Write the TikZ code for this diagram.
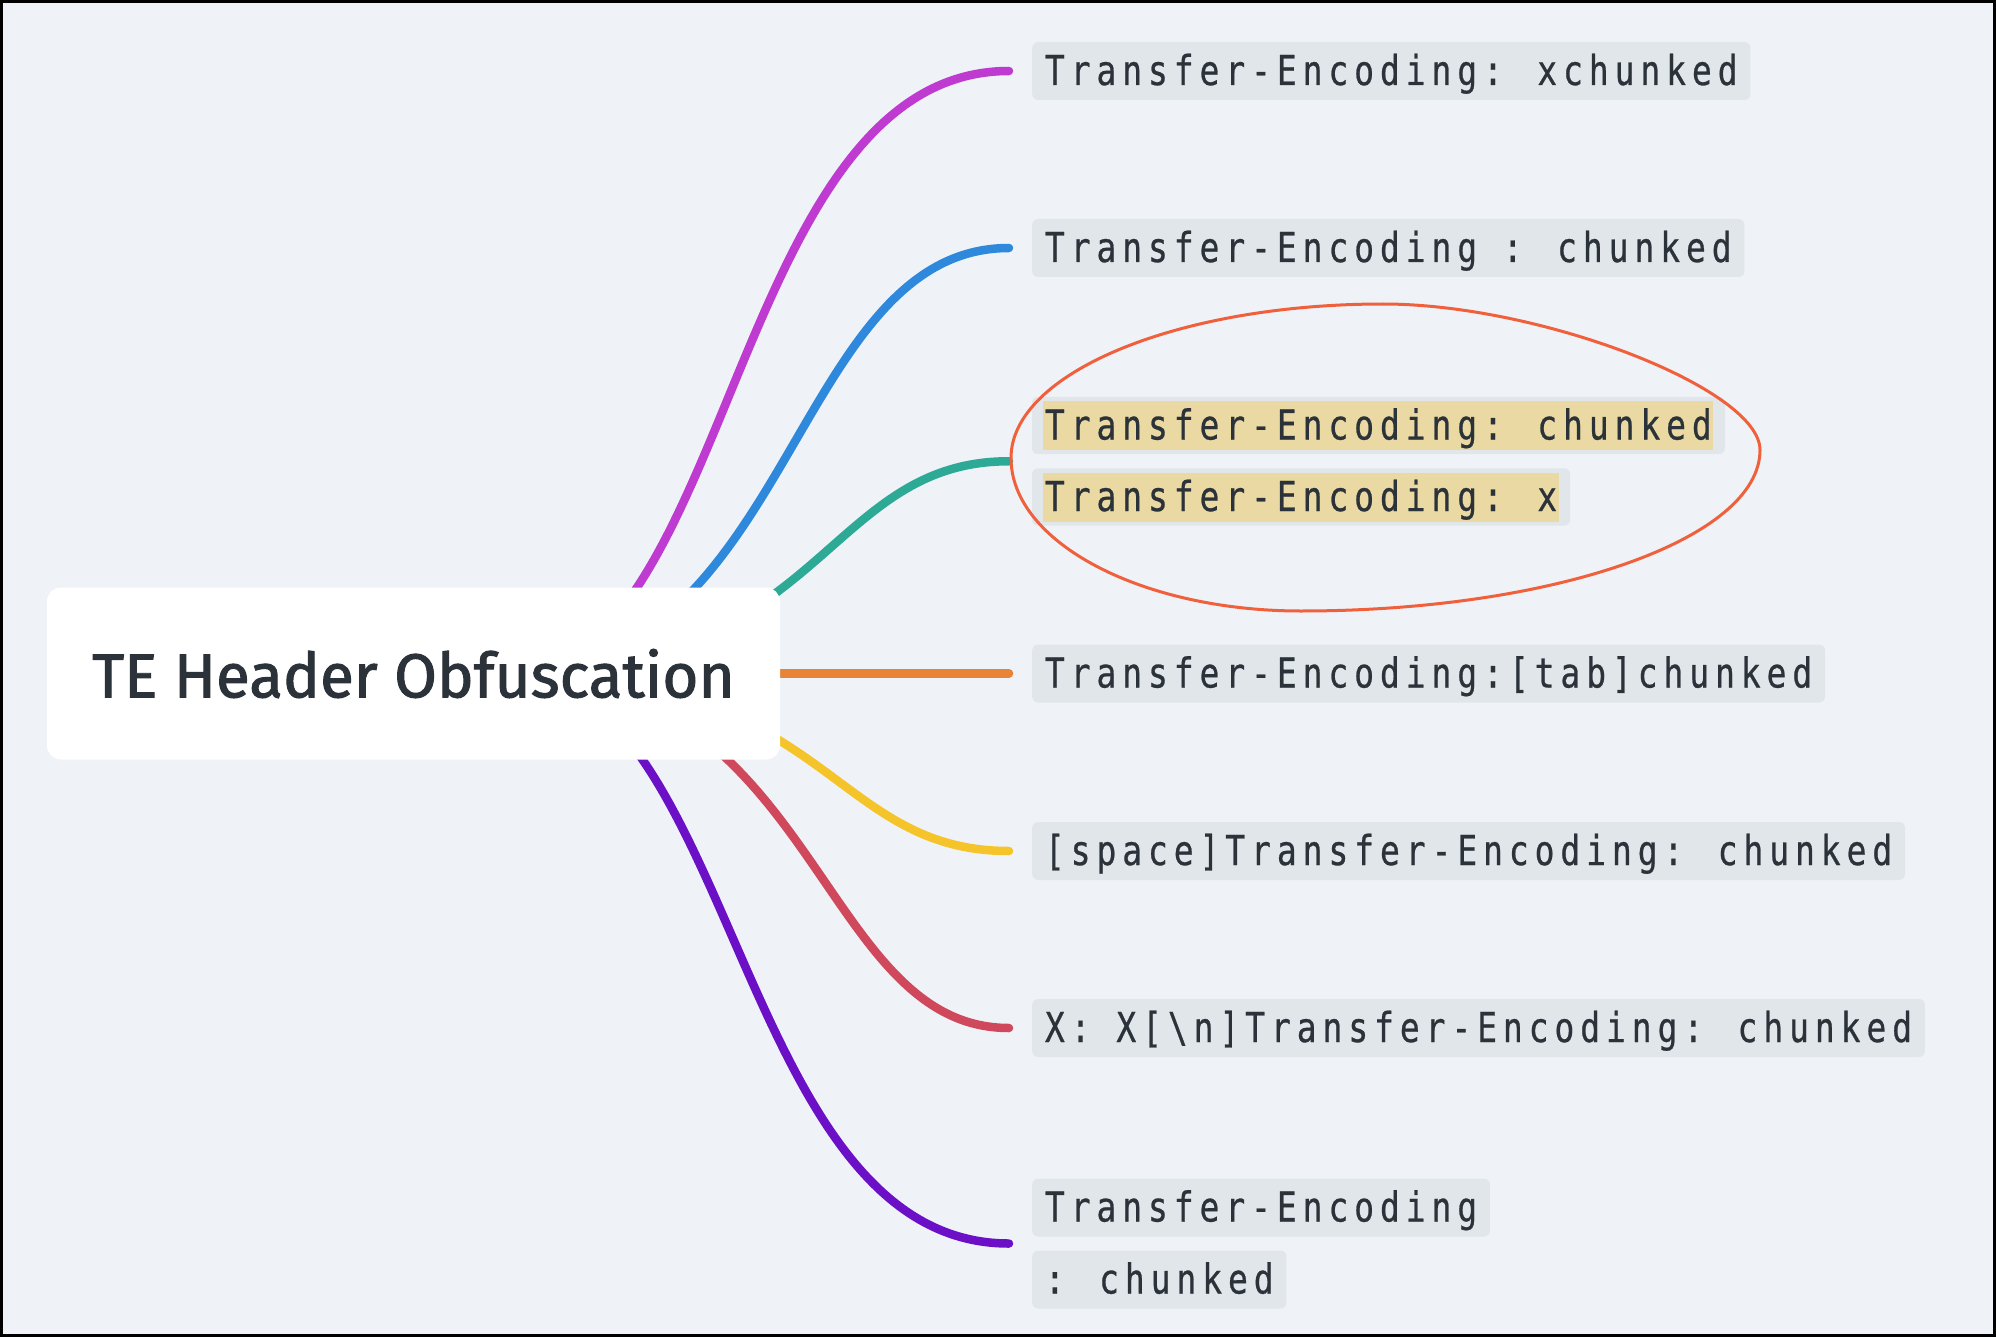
\documentclass[tikz,border=0pt]{standalone}
\usepackage{fontspec}
\newfontfamily\rootfont[FakeBold=1.6]{Fira Sans}
\newfontfamily\codefont[FakeStretch=0.8, LetterSpace=14.4, FakeBold=0.6]{DejaVu Sans Mono}
\usetikzlibrary{fit,backgrounds,calc}

\definecolor{bg}{RGB}{239,243,247}
\definecolor{lbl}{RGB}{225,230,235}
\definecolor{hl}{RGB}{234,217,162}
\definecolor{ink}{RGB}{43,50,57}
\definecolor{cMag}{RGB}{190,58,208}
\definecolor{cBlue}{RGB}{46,137,220}
\definecolor{cTeal}{RGB}{44,170,150}
\definecolor{cOrange}{RGB}{232,132,56}
\definecolor{cYellow}{RGB}{245,196,42}
\definecolor{cRed}{RGB}{208,72,92}
\definecolor{cPurple}{RGB}{108,16,200}
\definecolor{cRing}{RGB}{240,96,60}

\begin{document}
\begin{tikzpicture}[x=1pt,y=-1pt,
  codefnt/.style={font=\codefont\fontsize{41.2}{50}\selectfont, text=ink, text height=30pt, text depth=2pt},
  codebox/.style={codefnt, anchor=west, fill=lbl, rounded corners=6pt, inner xsep=12.75pt, inner ysep=13pt},
  hltext/.style={codefnt, anchor=west, fill=hl, inner xsep=1.5pt, inner ysep=8.5pt},
  hlbox/.style={fill=lbl, rounded corners=6pt, inner xsep=11.25pt, inner ysep=4pt},
  conn/.style={line width=8.5pt, line cap=round},
  rootbox/.style={fill=white, rounded corners=14pt, minimum width=733pt, minimum height=172pt,
    inner sep=0pt, font=\rootfont\fontsize{62}{72}\selectfont, text=ink},
]
\useasboundingbox (0,0) rectangle (1996,1337);

% root
\node[rootbox] (root) at (413.5,673.5) {TE Header Obfuscation};

% leaves
\node[codebox] (n1) at (1032,71) {Transfer-Encoding: xchunked};
\node[codebox] (n2) at (1032,248) {Transfer-Encoding : chunked};
\node[hltext] (n3a) at (1043.25,425.5) {Transfer-Encoding: chunked};
\node[hltext] (n3b) at (1043.25,497) {Transfer-Encoding: x};
\node[codebox] (n5) at (1032,673.5) {Transfer-Encoding:[tab]chunked};
\node[codebox] (n6) at (1032,851) {[space]Transfer-Encoding: chunked};
\node[codebox] (n7) at (1032,1028) {X: X[\textbackslash n]Transfer-Encoding: chunked};
\node[codebox] (n9a) at (1032,1207.5) {Transfer-Encoding};
\node[codebox] (n9b) at (1032,1279.5) {: chunked};

\coordinate (o) at ([xshift=95.5pt]root.center);
\coordinate (e3) at ([xshift=-34.25pt]$(n3a.west)!.5!(n3b.west)$);
\coordinate (e9) at ([xshift=-23pt]$(n9a.west)!.5!(n9b.west)$);

\begin{scope}[on background layer]
  \fill[bg] (0,0) rectangle (1996,1337);
  \node[hlbox, fit=(n3a)] (g3a) {};
  \node[hlbox, fit=(n3b)] (g3b) {};
  \draw[conn, cMag] (o) .. controls (732,673.5) and (732,71) .. ([xshift=-23pt]n1.west);
  \draw[conn, cBlue] (o) .. controls (792,673.5) and (792,248) .. ([xshift=-23pt]n2.west);
  \draw[conn, cTeal] (o) .. controls (824,673.5) and (824,461.25) .. (e3);
  \draw[conn, cOrange] (o) -- ([xshift=-23pt]n5.west);
  \draw[conn, cYellow] (o) .. controls (830,673.5) and (830,851) .. ([xshift=-23pt]n6.west);
  \draw[conn, cRed] (o) .. controls (818,673.5) and (818,1028) .. ([xshift=-23pt]n7.west);
  \draw[conn, cPurple] (o) .. controls (736,673.5) and (736,1243.5) .. (e9);
\end{scope}

% highlight ring
\draw[cRing, line width=3pt]
  (1011,458) .. controls (1011,373) and (1178,304) .. (1383,304)
  .. controls (1541,304) and (1760,389) .. (1760,450)
  .. controls (1760,539) and (1554,611) .. (1301,611)
  .. controls (1141,611) and (1011,542) .. cycle;

% frame
\draw[black, line width=3pt] (1.5,1.5) rectangle (1994.5,1335.5);
\end{tikzpicture}
\end{document}
